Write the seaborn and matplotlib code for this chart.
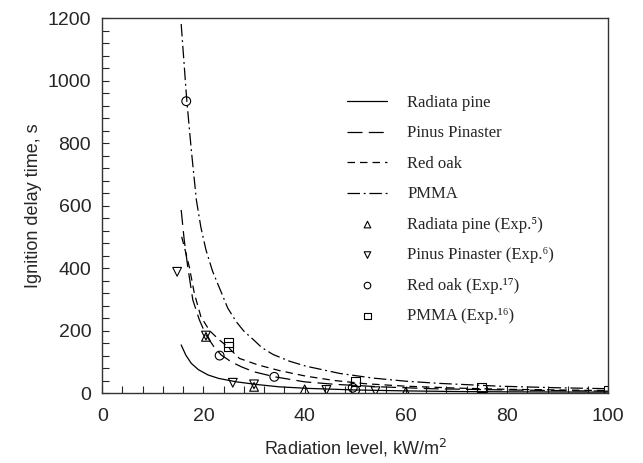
import numpy as np
import pandas as pd
import matplotlib
matplotlib.use("Agg")
import matplotlib.pyplot as plt
import seaborn as sns

# model curves
rp_x = [15.6, 16.5, 17.6, 19.0, 20.9, 23.0, 26.5, 30.8, 35.0, 40.7, 50.0, 60.0, 70.0, 80.0, 100.0]
rp_y = [154, 122, 95, 75, 58, 47, 36, 27, 20, 15, 10, 7, 5, 4, 3]

pp_x = [15.6, 16.2, 16.9, 17.9, 19.2, 20.5, 22.0, 23.5, 25.5, 27.5, 30.0, 34.1, 40.0, 46.0, 55.0, 65.0, 80.0, 100.0]
pp_y = [586, 490, 404, 298, 234, 186, 150, 122, 100, 84, 68, 52, 36, 28, 20, 14, 10, 6]

ro_x = [15.7, 16.5, 17.2, 18.2, 19.5, 21.2, 23.0, 24.8, 27.1, 30.8, 35.0, 40.3, 46.0, 52.0, 60.0, 70.0, 80.0, 100.0]
ro_y = [500, 450, 404, 319, 244, 200, 172, 148, 111, 90, 72, 54, 40, 30, 22, 16, 12, 8]

pm_x = [15.6, 16.7, 17.6, 18.6, 19.5, 20.5, 21.8, 23.2, 24.8, 26.5, 28.0, 29.8, 31.5, 33.7, 37.0, 40.3, 46.9,
        53.5, 60.0, 66.7, 78.6, 90.0, 100.0]
pm_y = [1181, 938, 778, 618, 530, 458, 390, 335, 272, 228, 198, 172, 146, 124, 102, 86, 63,
        48, 38, 31, 22, 17, 14]

# experimental points
rp_exp_x = [20.5, 30, 40, 60]
rp_exp_y = [180, 20, 12, 4]
pp_exp_x = [14.8, 20.5, 25.8, 30, 44.3, 54]
pp_exp_y = [388, 184, 33, 28, 10, 6]
ro_exp_x = [16.6, 23.2, 34, 49.5, 50]
ro_exp_y = [934, 120, 52, 17, 10]
pm_exp_x = [25, 25, 50, 75, 100]
pm_exp_y = [162, 148, 36, 18, 10]

sns.set_style("ticks")
plt.rcParams["font.family"] = ["Liberation Sans", "DejaVu Sans"]

fig = plt.figure(figsize=(6.43, 4.63), dpi=100)
ax = fig.add_axes([0.159, 0.151, 0.787, 0.810])

curves = [
    (rp_x, rp_y, "Radiata pine", "-"),
    (pp_x, pp_y, "Pinus Pinaster", (0, (12, 5))),
    (ro_x, ro_y, "Red oak", (0, (6, 4))),
    (pm_x, pm_y, "PMMA", (0, (10, 3, 1.5, 3))),
]
for cx, cy, lab, ls in curves:
    sns.lineplot(x=cx, y=cy, ax=ax, color="black", linewidth=0.9,
                 linestyle=ls, sort=False, estimator=None, label=lab)

points = [
    (rp_exp_x, rp_exp_y, "Radiata pine (Exp.\u2075)", "^"),
    (pp_exp_x, pp_exp_y, "Pinus Pinaster (Exp.\u2076)", "v"),
    (ro_exp_x, ro_exp_y, "Red oak (Exp.\u00b9\u2077)", "o"),
    (pm_exp_x, pm_exp_y, "PMMA (Exp.\u00b9\u2076)", "s"),
]
for px, py, lab, mk in points:
    sns.scatterplot(x=px, y=py, ax=ax, marker=mk, s=40, facecolor="none",
                    edgecolor="black", linewidth=0.8, label=lab, zorder=3)

ax.set_xlim(0, 100)
ax.set_ylim(0, 1200)
ax.set_xticks([0, 20, 40, 60, 80, 100])
ax.set_yticks([0, 200, 400, 600, 800, 1000, 1200])
ax.set_xticks(np.arange(0, 101, 4), minor=True)
ax.set_yticks(np.arange(0, 1201, 40), minor=True)
ax.tick_params(which="both", direction="in", top=False, right=False,
               length=5, width=0.8, labelsize=14)
ax.tick_params(axis="x", which="major", pad=11)
ax.tick_params(axis="y", which="major", pad=8)
for sp in ax.spines.values():
    sp.set_linewidth(1.0)
    sp.set_color("#333333")

ax.set_xlabel("Radiation level, kW/m$^2$", fontsize=13, labelpad=8)
ax.set_ylabel("Ignition delay time, s", fontsize=13, labelpad=4)

leg = ax.legend(loc="upper left", bbox_to_anchor=(0.455, 0.835), frameon=False,
                prop={"family": ["Liberation Serif", "DejaVu Serif"], "size": 12},
                handlelength=2.4, labelspacing=0.87, handletextpad=1.2,
                markerscale=0.75)

plt.savefig("out.png", dpi=100)
plt.close()
